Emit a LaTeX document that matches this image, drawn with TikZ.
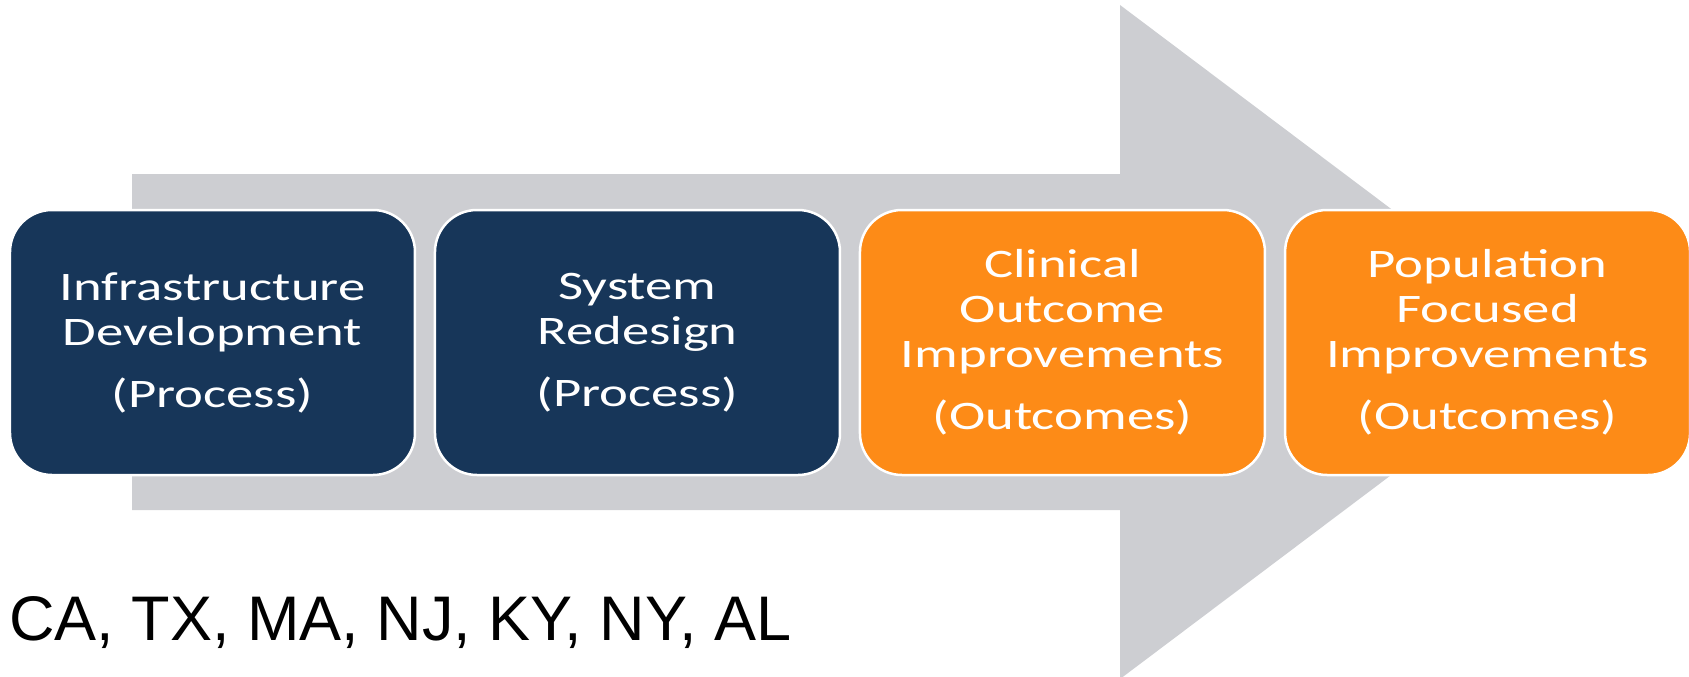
\documentclass[tikz,border=0pt]{standalone}
\usepackage{fontspec}
\setmainfont{Liberation Sans}
\newfontfamily\boxfont{Carlito}
\usepackage{tikz}
\usetikzlibrary{positioning}

\definecolor{navy}{RGB}{23,54,89}
\definecolor{amber}{RGB}{253,139,23}
\definecolor{arrowgray}{RGB}{205,206,210}

\begin{document}
\begin{tikzpicture}[x=1pt, y=-1pt]
        % Setup the style for the boxes
        \tikzset{box style/.style={rectangle,
                                   rounded corners=42pt,
                                   minimum width=300pt,
                                   minimum height=265pt,
                                   draw=white, line width=2.5pt,
                                   text=white, align=center, inner sep=0pt,
                                   font=\boxfont\fontsize{40.5}{45}\selectfont},
                 process box/.style={box style, fill=navy},
                 outcome box/.style={box style, fill=amber}}

        \useasboundingbox (0,0) rectangle (1689,677);

        % Draw the big arrow behind
        \fill[arrowgray] (132,174) -- (1120,174) -- (1120,5) -- (1568,342)
            -- (1120,679) -- (1120,510) -- (132,510) -- cycle;

        % Draw the boxes
        \begin{scope}[xscale=1.35, transform shape]
        \node[process box] at (157.4, 342.5) (infra)    {Infrastructure\\Development\\[17pt](Process)};
        \node[process box] at (472.2, 342.5) (redesign) {System\\Redesign\\[17pt](Process)};
        \node[outcome box] at (787.0, 342.5) (clinical) {Clinical\\Outcome\\Improvements\\[17pt](Outcomes)};
        \node[outcome box] at (1101.9, 342.5) (population) {Population\\Focused\\Improvements\\[17pt](Outcomes)};
        \end{scope}

        % States
        \node[anchor=base west, inner sep=0pt, font=\fontsize{63}{63}\selectfont]
            at (9, 640) (states) {CA, TX, MA, NJ, KY, NY, AL};
\end{tikzpicture}
\end{document}
